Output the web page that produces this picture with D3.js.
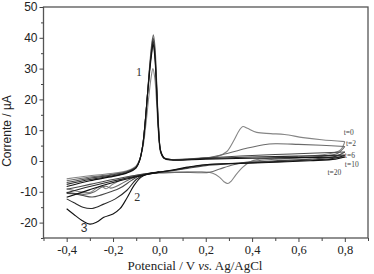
<!DOCTYPE html>
<html>
<head>
<meta charset="utf-8">
<script src="https://cdn.jsdelivr.net/npm/d3@7"></script>
<style>
  html, body { margin: 0; padding: 0; background: #fff; }
  svg { display: block; }
</style>
</head>
<body>
<svg id="chart" width="374" height="274"></svg>
<script>
// voltammograms: [potential V, current uA]
const t0Anodic = [[-0.4,-5.8],[-0.3,-4.8],[-0.2,-4.0],[-0.14,-3.2],[-0.1,-1.6],[-0.085,0.5],[-0.07,5],[-0.058,12],[-0.047,20],[-0.036,27],[-0.028,30],[-0.02,27],[-0.012,19],[-0.004,9],[0.006,2.5],[0.02,0.9],[0.05,0.5],[0.15,0.7],[0.25,1.5],[0.29,3],[0.32,6.5],[0.345,10],[0.36,11.2],[0.38,10.6],[0.42,9.3],[0.48,8.9],[0.54,8.6],[0.62,7.6],[0.7,6.9],[0.8,6.3]];
const t0Cathodic = [[0.8,6.3],[0.78,3.5],[0.72,2.2],[0.6,1.4],[0.5,1.0],[0.43,0.6],[0.39,-0.3],[0.36,-2],[0.33,-4.5],[0.31,-6.5],[0.295,-7.3],[0.28,-6.8],[0.26,-5.3],[0.23,-4.0],[0.18,-3.5],[0.1,-3.6],[0.0,-3.9],[-0.1,-4.6],[-0.15,-5.6],[-0.2,-7.5],[-0.23,-9.0],[-0.25,-8.2],[-0.27,-8.8],[-0.3,-10.2],[-0.34,-10],[-0.4,-9.0]];

const t2Anodic = [[-0.4,-6.4],[-0.3,-5.2],[-0.2,-4.3],[-0.14,-3.4],[-0.1,-1.8],[-0.085,0.5],[-0.072,5],[-0.062,12],[-0.052,21],[-0.042,31],[-0.033,38],[-0.026,41],[-0.019,37],[-0.012,26],[-0.004,12],[0.006,3],[0.02,1],[0.05,0.5],[0.15,0.7],[0.22,1.2],[0.3,2.6],[0.38,4.2],[0.45,5.3],[0.5,5.6],[0.6,5.4],[0.7,5.1],[0.8,4.7]];
const t2Cathodic = [[0.8,4.7],[0.77,2.5],[0.7,1.5],[0.6,1],[0.5,0.6],[0.4,-0.1],[0.32,-1.2],[0.26,-2.6],[0.22,-3.6],[0.17,-3.8],[0.1,-3.7],[0,-3.8],[-0.08,-4.5],[-0.13,-6],[-0.18,-8],[-0.21,-8.8],[-0.23,-8.2],[-0.25,-8.5],[-0.28,-10],[-0.32,-10.8],[-0.36,-10.6],[-0.4,-10.2]];

const t6Anodic = [[-0.4,-7.0],[-0.3,-5.6],[-0.2,-4.5],[-0.14,-3.5],[-0.1,-1.9],[-0.085,0.4],[-0.072,5],[-0.062,12],[-0.052,21],[-0.042,30],[-0.033,37],[-0.027,40],[-0.02,36],[-0.012,25],[-0.004,11],[0.006,3],[0.02,1],[0.05,0.5],[0.2,1.0],[0.35,1.6],[0.5,2.1],[0.65,2.5],[0.8,2.9]];
const t6Cathodic = [[0.8,2.9],[0.76,1.5],[0.65,0.6],[0.5,0.1],[0.4,-0.4],[0.3,-0.9],[0.2,-1.5],[0.12,-2.4],[0.05,-3.2],[0,-3.7],[-0.08,-4.6],[-0.12,-6.3],[-0.17,-8.8],[-0.21,-10],[-0.25,-11],[-0.29,-11.7],[-0.33,-11.2],[-0.37,-10.6],[-0.4,-10.5]];
const t6Sweep = [[-0.4,-9.2],[-0.3,-7.6],[-0.2,-6.0],[-0.1,-4.6],[0,-3.5]];

const t10Anodic = [[-0.4,-7.6],[-0.3,-6.0],[-0.2,-4.8],[-0.14,-3.7],[-0.1,-2.0],[-0.085,0.3],[-0.072,5],[-0.062,12],[-0.052,21],[-0.042,30],[-0.033,36],[-0.027,39],[-0.02,35],[-0.012,24],[-0.004,11],[0.006,3],[0.02,1],[0.05,0.4],[0.2,0.8],[0.4,1.3],[0.6,1.6],[0.8,1.9]];
const t10Cathodic = [[0.8,1.9],[0.76,1.0],[0.65,0.3],[0.5,-0.2],[0.35,-0.7],[0.2,-1.2],[0.12,-2.2],[0.05,-3.1],[0,-3.6],[-0.06,-4.3],[-0.1,-6],[-0.14,-9.5],[-0.19,-12.3],[-0.24,-14],[-0.29,-15.4],[-0.33,-15],[-0.37,-13.5],[-0.4,-12.3]];
const t10Sweep = [[-0.4,-10.3],[-0.3,-8.3],[-0.2,-6.5],[-0.1,-4.9],[0,-3.6]];

const t20Anodic = [[-0.4,-8.3],[-0.3,-6.4],[-0.2,-5.0],[-0.14,-3.9],[-0.1,-2.2],[-0.085,0.2],[-0.072,5],[-0.062,12],[-0.052,21],[-0.042,29],[-0.033,35],[-0.027,38],[-0.02,34],[-0.012,23],[-0.004,10],[0.006,3],[0.02,0.9],[0.05,0.3],[0.2,0.6],[0.4,0.9],[0.6,1.1],[0.8,1.3]];
const t20Cathodic = [[0.8,1.3],[0.76,0.6],[0.65,0.1],[0.5,-0.4],[0.35,-0.8],[0.2,-1.2],[0.12,-2.0],[0.05,-3.0],[0,-3.6],[-0.05,-4.2],[-0.08,-5.3],[-0.11,-8],[-0.14,-12],[-0.17,-15.5],[-0.2,-17.2],[-0.24,-18.3],[-0.27,-19.8],[-0.3,-20.5],[-0.33,-19.5],[-0.37,-17.3],[-0.4,-15.5]];
const t20Sweep = [[-0.4,-11.8],[-0.3,-9.3],[-0.2,-7],[-0.1,-5.1],[0,-3.6]];

const seriesLabels = ["t=0", "t=2", "t=6", "t=10", "t=20"];
const seriesColors = ["#858585", "#6a6a6a", "#4a4a4a", "#2a2a2a", "#111"];
const xTicks = [-0.4, -0.2, 0.0, 0.2, 0.4, 0.6, 0.8];
const yTicks = [-20, -10, 0, 10, 20, 30, 40, 50];
// peak labels: [potential, current, text]
const peakLabels = [[-0.088, 27.5, "1"], [-0.095, -13, "2"], [-0.325, -23, "3"]];

const curves = [
  { anodic: t0Anodic, cathodic: t0Cathodic, sweep: null },
  { anodic: t2Anodic, cathodic: t2Cathodic, sweep: null },
  { anodic: t6Anodic, cathodic: t6Cathodic, sweep: t6Sweep },
  { anodic: t10Anodic, cathodic: t10Cathodic, sweep: t10Sweep },
  { anodic: t20Anodic, cathodic: t20Cathodic, sweep: t20Sweep }
];

const serif = "Liberation Serif, Times New Roman, serif";
const sans = "Liberation Sans, Arial, sans-serif";

const svg = d3.select("#chart");
const margin = { top: 7, right: 6, bottom: 36, left: 43.5 };
const width = 374, height = 274;

const x = d3.scaleLinear().domain([-0.5, 0.9]).range([margin.left, width - margin.right]);
const y = d3.scaleLinear().domain([-25, 50]).range([height - margin.bottom, margin.top]);

const fmtX = d => d3.format(".1f")(d).replace(".", ",").replace("−", "-");
const fmtY = d => String(d);

const line = d3.line().x(d => x(d[0])).y(d => y(d[1])).curve(d3.curveCatmullRom.alpha(0.5));

const plot = svg.append("g");
curves.forEach((c, i) => {
  [c.anodic, c.cathodic, c.sweep].filter(Boolean).forEach(pts => {
    plot.append("path")
      .attr("d", line(pts))
      .attr("fill", "none")
      .attr("stroke", seriesColors[i])
      .attr("stroke-width", 1.1)
      .attr("stroke-linejoin", "round");
  });
});

// frame
svg.append("rect")
  .attr("x", margin.left).attr("y", margin.top)
  .attr("width", width - margin.right - margin.left)
  .attr("height", height - margin.bottom - margin.top)
  .attr("fill", "none").attr("stroke", "#555").attr("stroke-width", 1.3);

// y axis
const yAxis = svg.append("g")
  .attr("transform", `translate(${margin.left},0)`)
  .call(d3.axisLeft(y).tickValues(yTicks).tickFormat(fmtY).tickSize(4).tickPadding(2))
  .attr("font-family", sans).attr("font-size", 12);
yAxis.select(".domain").remove();
svg.append("g")
  .attr("transform", `translate(${margin.left},0)`)
  .call(d3.axisLeft(y).tickValues(d3.range(-25, 50, 10)).tickFormat("").tickSize(2.5))
  .select(".domain").remove();
yAxis.selectAll("text").attr("fill", "#222");

// x axis
const xAxis = svg.append("g")
  .attr("transform", `translate(0,${height - margin.bottom})`)
  .call(d3.axisBottom(x).tickValues(xTicks).tickFormat(fmtX).tickSize(4).tickPadding(3))
  .attr("font-family", serif).attr("font-size", 12.5);
xAxis.select(".domain").remove();
svg.append("g")
  .attr("transform", `translate(0,${height - margin.bottom})`)
  .call(d3.axisBottom(x).tickValues([-0.5, -0.3, -0.1, 0.1, 0.3, 0.5, 0.7, 0.9]).tickFormat("").tickSize(3))
  .select(".domain").remove();
xAxis.selectAll("text").attr("fill", "#222");
svg.selectAll(".tick line").attr("stroke", "#444");

// axis titles
const xTitle = svg.append("text")
  .attr("x", 195).attr("y", 270)
  .attr("text-anchor", "middle")
  .attr("font-family", serif)
  .attr("font-size", 13).attr("fill", "#222");
xTitle.append("tspan").text("Potencial / V ");
xTitle.append("tspan").attr("font-style", "italic").text("vs.");
xTitle.append("tspan").text(" Ag/AgCl");

svg.append("text")
  .attr("transform", "translate(11,131) rotate(-90)")
  .attr("text-anchor", "middle")
  .attr("font-family", sans)
  .attr("font-size", 12).attr("fill", "#222")
  .text("Corrente / µA");

// series labels at the right end
const endValues = curves.map(c => c.anodic[c.anodic.length - 1][1]);
const labelOffsets = [[-0.005, 2.2], [0.005, 0.3], [0.0, -1.8], [0.0, -3.8], [-0.075, -6.0]];
seriesLabels.forEach((t, i) => {
  svg.append("text")
    .attr("x", x(0.8 + labelOffsets[i][0]))
    .attr("y", y(endValues[i] + labelOffsets[i][1]))
    .attr("font-family", serif)
    .attr("font-size", 7.5).attr("fill", "#444")
    .text(t);
});

// peak numbers
peakLabels.forEach(([e, i, t]) => {
  svg.append("text")
    .attr("x", x(e)).attr("y", y(i))
    .attr("text-anchor", "middle")
    .attr("font-family", t === "3" ? sans : serif)
    .attr("font-size", 12).attr("fill", "#333")
    .text(t);
});
</script>
</body>
</html>
